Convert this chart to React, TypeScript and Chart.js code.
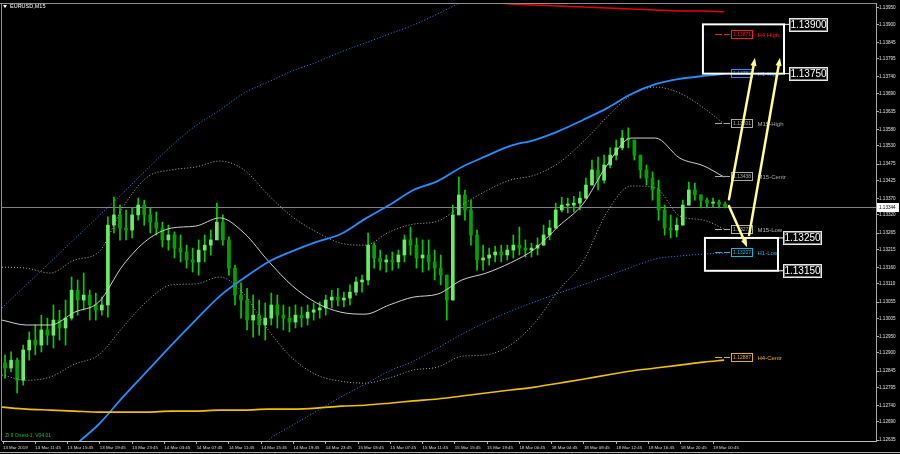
import { useEffect, useRef } from 'react';
import { Chart, registerables } from 'chart.js';

Chart.register(...registerables);

// ---------- price data (EURUSD M15, aggregated 3 bars per candle) ----------
const FIRST_OPEN = 1.1287;
const highs = [
  1.12894, 1.12903, 1.12884, 1.12924, 1.12964, 1.12985, 1.13015, 1.13006, 1.13046, 1.1303,
  1.13061, 1.13131, 1.13122, 1.13143, 1.13091, 1.13082, 1.1307, 1.13314, 1.13374, 1.1335,
  1.13335, 1.13341, 1.13371, 1.13365, 1.13341, 1.13329, 1.13298, 1.13289, 1.13268, 1.13259,
  1.13228, 1.13219, 1.13244, 1.13259, 1.13274, 1.13356, 1.1332, 1.13253, 1.13167, 1.13113,
  1.13097, 1.13076, 1.13061, 1.13052, 1.13082, 1.13076, 1.13046, 1.1304, 1.13046, 1.1304,
  1.13046, 1.13052, 1.13055, 1.13076, 1.13091, 1.13097, 1.13085, 1.13107, 1.13131, 1.13137,
  1.13265, 1.13234, 1.13213, 1.13198, 1.13207, 1.13213, 1.13259, 1.13283, 1.1325, 1.13244,
  1.13244, 1.13213, 1.13198, 1.13122, 1.1335, 1.13435, 1.13396, 1.13365, 1.13274, 1.13228,
  1.13219, 1.13225, 1.13228, 1.13228, 1.13259, 1.13283, 1.13244, 1.13234, 1.1325, 1.13289,
  1.13304, 1.13356, 1.13374, 1.13371, 1.13377, 1.1339, 1.13432, 1.13487, 1.13496, 1.13502,
  1.13524, 1.13548, 1.13578, 1.13585, 1.13548, 1.13502, 1.13472, 1.13451, 1.13426, 1.1335,
  1.1332, 1.13311, 1.13365, 1.1342, 1.13417, 1.13381, 1.13371, 1.13371, 1.13365, 1.13359,
];
const lows = [
  1.12823, 1.12842, 1.12778, 1.12802, 1.12878, 1.12894, 1.12903, 1.12924, 1.12915, 1.12939,
  1.12924, 1.13, 1.13015, 1.13031, 1.13, 1.13, 1.13015, 1.13009, 1.13265, 1.13243,
  1.13244, 1.1325, 1.13304, 1.13289, 1.13265, 1.13259, 1.13222, 1.13213, 1.13189, 1.13177,
  1.13158, 1.13146, 1.13137, 1.13177, 1.13198, 1.13244, 1.13228, 1.13137, 1.13046, 1.13006,
  1.1297, 1.12948, 1.12954, 1.12939, 1.12985, 1.12976, 1.1297, 1.12964, 1.12976, 1.12979,
  1.12985, 1.13, 1.13006, 1.13015, 1.13037, 1.13043, 1.1304, 1.13046, 1.13076, 1.13085,
  1.13107, 1.13158, 1.13152, 1.13146, 1.13152, 1.13158, 1.13177, 1.13198, 1.13158, 1.13146,
  1.13152, 1.13122, 1.13107, 1.13, 1.13061, 1.1332, 1.13304, 1.13228, 1.13152, 1.13152,
  1.13167, 1.13177, 1.13177, 1.13183, 1.13189, 1.13198, 1.13192, 1.13192, 1.13198, 1.13228,
  1.13244, 1.13289, 1.13329, 1.13326, 1.13329, 1.13335, 1.13371, 1.13411, 1.13396, 1.13417,
  1.13463, 1.13487, 1.13518, 1.13524, 1.13487, 1.13432, 1.13411, 1.13365, 1.13304, 1.13259,
  1.1325, 1.13253, 1.13289, 1.13356, 1.13365, 1.13341, 1.13341, 1.13344, 1.13341, 1.13341,
];
const closes = [
  1.12854, 1.12878, 1.12817, 1.12909, 1.12939, 1.12924, 1.1297, 1.12954, 1.13, 1.12976,
  1.13006, 1.13091, 1.13061, 1.13076, 1.13046, 1.13031, 1.13046, 1.13289, 1.1332, 1.1328,
  1.13274, 1.1332, 1.1335, 1.1332, 1.13298, 1.1328, 1.13244, 1.13259, 1.13219, 1.13207,
  1.13183, 1.13177, 1.13213, 1.13228, 1.13244, 1.13298, 1.13244, 1.13158, 1.13076, 1.13061,
  1.13, 1.13015, 1.12985, 1.13006, 1.13046, 1.13015, 1.13006, 1.12994, 1.13015, 1.13006,
  1.13024, 1.13031, 1.13037, 1.13061, 1.1307, 1.13061, 1.13067, 1.13085, 1.13116, 1.13122,
  1.13228, 1.13189, 1.13177, 1.13183, 1.13177, 1.13198, 1.13244, 1.13228, 1.13189, 1.13198,
  1.13177, 1.13158, 1.13137, 1.13061, 1.1332, 1.13381, 1.13335, 1.13259, 1.13183, 1.13189,
  1.13198, 1.13207, 1.13198, 1.13213, 1.13228, 1.13219, 1.13213, 1.13219, 1.13228, 1.13259,
  1.1328, 1.13335, 1.1335, 1.1335, 1.13356, 1.13371, 1.13411, 1.13457, 1.13426, 1.13472,
  1.13502, 1.13524, 1.13554, 1.13548, 1.13502, 1.13457, 1.13432, 1.13396, 1.13335, 1.1328,
  1.13274, 1.13289, 1.1335, 1.13396, 1.13381, 1.13365, 1.13356, 1.13359, 1.13353, 1.13344,
];

// ---------- indicator data (x in M15 bars) ----------
const indX = [0, 12, 24, 36, 48, 60, 72, 84, 96, 108, 120, 132, 144, 156, 168, 180, 192, 204, 216, 228, 240, 252, 264, 276, 288, 300, 312, 324, 336, 348, 358];
const m15Mid = [1.13, 1.12985, 1.12985, 1.13024, 1.13055, 1.13167, 1.13244, 1.1328, 1.13286, 1.13311, 1.13265, 1.1318, 1.13104, 1.13052, 1.13024, 1.13018, 1.13046, 1.1307, 1.13079, 1.13122, 1.13143, 1.13174, 1.13216, 1.13286, 1.13353, 1.13472, 1.13554, 1.13554, 1.13493, 1.13469, 1.13435];
const m15Upper = [1.13161, 1.13158, 1.13143, 1.13183, 1.13207, 1.13344, 1.13435, 1.13457, 1.13466, 1.13484, 1.13457, 1.13381, 1.13314, 1.13268, 1.13234, 1.13228, 1.13268, 1.13292, 1.13301, 1.1335, 1.13393, 1.13426, 1.13441, 1.13478, 1.13542, 1.13618, 1.13685, 1.13709, 1.13691, 1.13645, 1.13597];
const m15Lower = [1.12833, 1.12817, 1.12827, 1.12866, 1.12894, 1.12979, 1.13058, 1.13107, 1.1311, 1.13131, 1.13079, 1.1297, 1.12884, 1.12833, 1.12814, 1.12808, 1.12824, 1.12848, 1.12857, 1.1289, 1.12894, 1.12924, 1.12991, 1.13091, 1.13177, 1.13329, 1.13408, 1.13402, 1.13317, 1.13304, 1.13277];
const h1Ma = [1.12391, 1.12464, 1.12537, 1.12617, 1.12683, 1.12766, 1.12845, 1.12924, 1.13, 1.13073, 1.13128, 1.13177, 1.1321, 1.13238, 1.13262, 1.13308, 1.1335, 1.13396, 1.13423, 1.13466, 1.13499, 1.1353, 1.13548, 1.13575, 1.13609, 1.13645, 1.13688, 1.13718, 1.13734, 1.13743, 1.13749];
const h1Upper = [1.13037, 1.13107, 1.13177, 1.13247, 1.13317, 1.13387, 1.1346, 1.1353, 1.13591, 1.13639, 1.13691, 1.13725, 1.13758, 1.13785, 1.13816, 1.13843, 1.13871, 1.13898, 1.13932, 1.13968, 1.13999, null, null, null, null, null, null, null, null, null, null];
const h1Lower = [null, null, null, null, null, null, null, null, 1.1241, 1.12507, 1.12565, 1.12635, 1.1268, 1.12723, 1.12766, 1.12805, 1.12845, 1.12875, 1.12915, 1.12957, 1.12994, 1.13027, 1.13055, 1.13082, 1.13107, 1.13134, 1.13161, 1.13186, 1.13195, 1.13201, 1.13204];
const h4Ma = [1.12735, 1.12729, 1.12726, 1.12723, 1.1272, 1.1272, 1.1272, 1.12723, 1.12723, 1.12726, 1.12726, 1.12729, 1.12729, 1.12732, 1.12738, 1.12741, 1.12747, 1.12754, 1.1276, 1.12769, 1.12778, 1.12787, 1.12796, 1.12808, 1.1282, 1.12833, 1.12845, 1.12854, 1.12863, 1.12872, 1.12878];
const h4Upper = [null, null, null, null, null, null, null, null, null, null, null, null, null, null, null, null, null, 1.13986, 1.13977, 1.13971, 1.13968, 1.13962, 1.13959, 1.13956, 1.13953, 1.1395, 1.13947, 1.13944, 1.13941, 1.13941, 1.13938];

// ---------- axes ----------
const xLabels = ['13 Mar 2019', '13 Mar 11:45', '13 Mar 15:45', '13 Mar 19:45', '13 Mar 23:45', '14 Mar 03:45', '14 Mar 07:45', '14 Mar 11:45', '14 Mar 15:45', '14 Mar 19:45', '14 Mar 23:45', '15 Mar 03:45', '15 Mar 07:45', '15 Mar 11:45', '15 Mar 15:45', '15 Mar 19:45', '18 Mar 00:45', '18 Mar 04:45', '18 Mar 08:45', '18 Mar 12:45', '18 Mar 16:45', '18 Mar 20:45', '19 Mar 00:45'];
const yTicks = [1.1395, 1.139, 1.13845, 1.13795, 1.1374, 1.1369, 1.13635, 1.1358, 1.1353, 1.13475, 1.13425, 1.1337, 1.1332, 1.13265, 1.13215, 1.1316, 1.1311, 1.13055, 1.13005, 1.1295, 1.129, 1.12845, 1.12795, 1.1274, 1.1269, 1.12635];
const lastPrice = 1.13344;

// ---------- annotations ----------
const levelNames = ['H4 High', 'H1-High', 'M15-High', 'M15-Centr', 'M15-Low', 'H1-Low', 'H4-Centr'];
const levelValues = [1.13871, 1.13752, 1.13601, 1.13438, 1.13277, 1.13207, 1.12887];
const levelColors = ['#ff1a1a', '#1e90ff', '#a8a8a8', '#a8a8a8', '#b0b0b0', '#10b8e0', '#e8b000'];
const zoneUpper = [1.139, 1.1375];
const zoneLower = [1.1325, 1.1315];
const arrowsFrom = [[360.4, 1.13368], [370.4, 1.13259], [360.4, 1.13347]];
const arrowsTo = [[373.3, 1.13798], [385.7, 1.13798], [369.4, 1.13222]];

const FONT = '"Liberation Sans", Arial, sans-serif';

export default function App() {
  const ref = useRef<HTMLCanvasElement | null>(null);

  useEffect(() => {
    const canvas = ref.current;
    if (!canvas) return;

    const candleX = closes.map((_, i) => 3 * i + 1.5);
    const opens = closes.map((_, i) => (i === 0 ? FIRST_OPEN : closes[i - 1]));
    const wick = closes.map((c, i) => ({
      x: candleX[i],
      y: [Math.min(lows[i], opens[i], c), Math.max(highs[i], opens[i], c)],
    }));
    const bull: any[] = [];
    const bear: any[] = [];
    closes.forEach((c, i) => {
      const p = { x: candleX[i], y: [opens[i], c] };
      if (c >= opens[i]) bull.push(p);
      else bear.push(p);
    });
    const series = (arr: (number | null)[]) => indX.map((x, i) => ({ x, y: arr[i] }));

    const lineDs = (label: string, arr: (number | null)[], color: string, width: number, dash: number[], order: number) => ({
      type: 'line' as const,
      label,
      data: series(arr),
      borderColor: color,
      borderWidth: width,
      borderDash: dash,
      pointRadius: 0,
      cubicInterpolationMode: 'monotone' as const,
      spanGaps: false,
      order,
    });

    const overlay = {
      id: 'overlay',
      beforeDraw(chart: any) {
        const { ctx, width, height } = chart;
        ctx.save();
        ctx.fillStyle = '#000';
        ctx.fillRect(0, 0, width, height);
        ctx.restore();
      },
      beforeDatasetsDraw(chart: any) {
        const { ctx, chartArea, scales } = chart;
        const y = Math.round(scales.y.getPixelForValue(lastPrice)) + 0.5;
        ctx.save();
        ctx.strokeStyle = '#808080';
        ctx.lineWidth = 1;
        ctx.beginPath();
        ctx.moveTo(chartArea.left, y);
        ctx.lineTo(chartArea.right, y);
        ctx.stroke();
        ctx.restore();
      },
      afterDatasetsDraw(chart: any) {
        const { ctx, scales } = chart;
        const xs = scales.x;
        const ys = scales.y;
        ctx.save();

        // level labels
        const dashX = xs.getPixelForValue(353.5);
        levelNames.forEach((name, i) => {
          const y = Math.round(ys.getPixelForValue(levelValues[i])) + 0.5;
          const col = levelColors[i];
          ctx.strokeStyle = col;
          ctx.lineWidth = 1;
          ctx.setLineDash([7, 2]);
          ctx.beginPath();
          ctx.moveTo(dashX, y);
          ctx.lineTo(dashX + 15, y);
          ctx.stroke();
          ctx.setLineDash([]);
          const bx = Math.round(dashX + 16) + 0.5;
          ctx.fillStyle = '#000';
          ctx.fillRect(bx, y - 4, 21, 8);
          ctx.strokeRect(bx, y - 4, 21, 8);
          ctx.fillStyle = col;
          ctx.font = `5px ${FONT}`;
          ctx.textAlign = 'left';
          ctx.textBaseline = 'middle';
          ctx.fillText(levelValues[i].toFixed(5), bx + 1.5, y + 0.5);
          ctx.font = `6px ${FONT}`;
          ctx.fillText(name, bx + 26, y + 0.5);
        });

        // zones with price tags
        const drawZone = (vals: number[], b0: number, b1: number, tagBar: number) => {
          const x0 = xs.getPixelForValue(b0);
          const x1 = xs.getPixelForValue(b1);
          const yT = ys.getPixelForValue(vals[0]);
          const yB = ys.getPixelForValue(vals[1]);
          ctx.strokeStyle = '#ffffff';
          ctx.lineWidth = 2;
          ctx.strokeRect(x0, yT, x1 - x0, yB - yT);
          const tx = Math.round(xs.getPixelForValue(tagBar));
          vals.forEach((v) => {
            const y = ys.getPixelForValue(v);
            ctx.lineWidth = 1;
            ctx.strokeStyle = '#ffffff';
            ctx.beginPath();
            ctx.moveTo(x1, y);
            ctx.lineTo(tx, y);
            ctx.stroke();
            const h = 13;
            const w = 38;
            const top = Math.round(y - h / 2) + 0.5;
            ctx.fillStyle = '#000';
            ctx.fillRect(tx + 0.5, top, w, h);
            ctx.strokeStyle = '#e8e8e8';
            ctx.strokeRect(tx + 0.5, top, w, h);
            ctx.strokeStyle = '#808080';
            ctx.strokeRect(tx + 1.5, top + 1, w - 2, h - 2);
            ctx.fillStyle = '#ffffff';
            ctx.font = `10px ${FONT}`;
            ctx.textAlign = 'center';
            ctx.textBaseline = 'middle';
            ctx.fillText(v.toFixed(5), tx + w / 2 + 0.5, top + h / 2 + 0.5);
          });
        };
        drawZone(zoneUpper, 347.5, 387.7, 390.2);
        drawZone(zoneLower, 348.5, 384.7, 387.2);

        // arrows
        ctx.strokeStyle = '#ffff8c';
        ctx.fillStyle = '#ffff8c';
        ctx.lineWidth = 2.5;
        ctx.lineCap = 'round';
        arrowsFrom.forEach((f, i) => {
          const t = arrowsTo[i];
          const x1 = xs.getPixelForValue(f[0]);
          const y1 = ys.getPixelForValue(f[1]);
          const x2 = xs.getPixelForValue(t[0]);
          const y2 = ys.getPixelForValue(t[1]);
          const ang = Math.atan2(y2 - y1, x2 - x1);
          const hl = 8;
          const hw = 3;
          const bx = x2 - hl * Math.cos(ang);
          const by = y2 - hl * Math.sin(ang);
          ctx.beginPath();
          ctx.moveTo(x1, y1);
          ctx.lineTo(bx, by);
          ctx.stroke();
          ctx.beginPath();
          ctx.moveTo(x2, y2);
          ctx.lineTo(bx + hw * Math.sin(ang), by - hw * Math.cos(ang));
          ctx.lineTo(bx - hw * Math.sin(ang), by + hw * Math.cos(ang));
          ctx.closePath();
          ctx.fill();
        });

        // title and indicator caption
        ctx.fillStyle = '#ffffff';
        ctx.beginPath();
        ctx.moveTo(3, 5);
        ctx.lineTo(7, 5);
        ctx.lineTo(5, 8);
        ctx.closePath();
        ctx.fill();
        ctx.font = `5.5px ${FONT}`;
        ctx.textAlign = 'left';
        ctx.textBaseline = 'middle';
        ctx.fillText('EURUSD,M15', 10, 6.5);
        ctx.fillStyle = '#1fbf1f';
        ctx.font = `5px ${FONT}`;
        ctx.fillText('Zi 9 Onest-1, V04.01', 5, 436);
        ctx.restore();
      },
      afterDraw(chart: any) {
        const { ctx, chartArea, scales, width } = chart;
        ctx.save();
        ctx.strokeStyle = '#909090';
        ctx.lineWidth = 1;
        ctx.beginPath();
        ctx.moveTo(0, chartArea.top + 0.5);
        ctx.lineTo(chartArea.right, chartArea.top + 0.5);
        ctx.moveTo(chartArea.left - 0.5, chartArea.top);
        ctx.lineTo(chartArea.left - 0.5, chartArea.bottom);
        ctx.stroke();
        ctx.strokeStyle = '#b0b0b0';
        ctx.beginPath();
        ctx.moveTo(0, 452.5);
        ctx.lineTo(width, 452.5);
        ctx.stroke();
        // current price tag on the axis
        const y = Math.round(scales.y.getPixelForValue(lastPrice));
        ctx.fillStyle = '#ffffff';
        ctx.fillRect(chartArea.right + 1, y - 4, 22, 9);
        ctx.fillStyle = '#000000';
        ctx.font = `4.6px ${FONT}`;
        ctx.textAlign = 'left';
        ctx.textBaseline = 'middle';
        ctx.fillText(lastPrice.toFixed(5), chartArea.right + 3, y + 0.5);
        ctx.restore();
      },
    };

    const chart = new Chart(canvas, {
      type: 'bar',
      data: {
        datasets: [
          lineDs('H4 upper', h4Upper, '#e80000', 1.5, [], 1),
          lineDs('H4 MA', h4Ma, '#f0c000', 1.6, [], 1),
          lineDs('H1 upper', h1Upper, '#1e90ff', 1, [1, 2], 2),
          lineDs('H1 lower', h1Lower, '#1e90ff', 1, [1, 2], 2),
          lineDs('H1 MA', h1Ma, '#1e90ff', 1.8, [], 1),
          lineDs('M15 upper', m15Upper, '#b0b0b0', 1, [1, 2], 3),
          lineDs('M15 lower', m15Lower, '#b0b0b0', 1, [1, 2], 3),
          lineDs('M15 mid', m15Mid, '#d0d0d0', 1, [], 3),
          {
            type: 'bar' as const,
            label: 'wick',
            data: wick as any,
            backgroundColor: '#00d000',
            barThickness: 1,
            grouped: false,
            order: 12,
          },
          {
            type: 'bar' as const,
            label: 'bull',
            data: bull as any,
            backgroundColor: '#66ee66',
            barThickness: 3,
            minBarLength: 1,
            grouped: false,
            order: 11,
          },
          {
            type: 'bar' as const,
            label: 'bear',
            data: bear as any,
            backgroundColor: '#00a400',
            barThickness: 3,
            minBarLength: 1,
            grouped: false,
            order: 11,
          },
        ] as any,
      },
      options: {
        animation: false,
        responsive: false,
        devicePixelRatio: 1,
        layout: { padding: { left: 2, top: 3, right: 0, bottom: 0 } },
        plugins: { legend: { display: false }, tooltip: { enabled: false } },
        scales: {
          x: {
            type: 'linear',
            min: 0,
            max: 433.3,
            offset: false,
            afterFit: (s: any) => {
              s.height = 13;
            },
            afterBuildTicks: (s: any) => {
              s.ticks = xLabels.map((_, k) => ({ value: 16 * k + 0.5 }));
            },
            grid: { drawOnChartArea: false, drawTicks: true, tickLength: 3, color: '#b0b0b0', offset: false },
            border: { display: true, color: '#c0c0c0' },
            ticks: {
              autoSkip: false,
              maxRotation: 0,
              minRotation: 0,
              align: 'start',
              padding: 1,
              color: '#dcdcdc',
              font: { size: 4.4, family: FONT },
              callback: (_v: any, i: number) => xLabels[i],
            },
          },
          y: {
            type: 'linear',
            position: 'right',
            min: 1.12632,
            max: 1.13965,
            afterFit: (s: any) => {
              s.width = 24;
            },
            afterBuildTicks: (s: any) => {
              s.ticks = yTicks.map((v) => ({ value: v }));
            },
            grid: { drawOnChartArea: false, drawTicks: true, tickLength: 3, color: '#b0b0b0' },
            border: { display: true, color: '#a8a8a8' },
            ticks: {
              autoSkip: false,
              padding: 0,
              color: '#e0e0e0',
              font: { size: 4.6, family: FONT },
              callback: (v: any) => Number(v).toFixed(5),
            },
          },
        },
      } as any,
      plugins: [overlay],
    });

    return () => chart.destroy();
  }, []);

  return (
    <div style={{ position: 'fixed', left: 0, top: 0, width: 900, height: 454, background: '#000' }}>
      <canvas ref={ref} width={900} height={454} style={{ display: 'block', width: 900, height: 454 }} />
    </div>
  );
}
